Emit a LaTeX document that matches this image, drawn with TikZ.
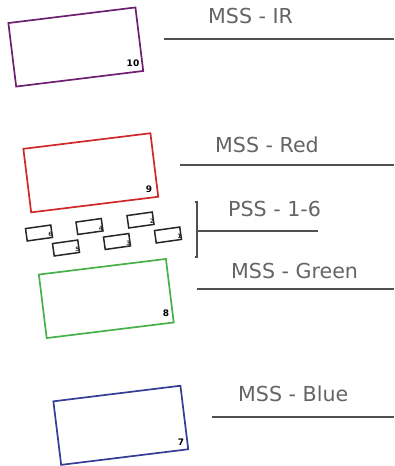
\documentclass[tikz,border=0pt]{standalone}
\usepackage{fontspec}
\setmainfont{DejaVu Sans}
\usetikzlibrary{calc}
\definecolor{irpurple}{HTML}{6E2070}
\definecolor{redband}{HTML}{D02828}
\definecolor{greenband}{HTML}{48B048}
\definecolor{blueband}{HTML}{343C96}
\definecolor{labelgray}{HTML}{646464}
\definecolor{rulegray}{HTML}{505050}
\tikzset{
  bandbox/.style={draw, line width=1.7pt, minimum width=128pt, minimum height=64pt,
    inner sep=0pt, rotate=7},
  pssbox/.style={draw=black!85, line width=1.5pt, minimum width=25.5pt, minimum height=12.5pt,
    inner sep=0pt, rotate=8},
  bandnum/.style={font=\fontsize{9}{9}\selectfont\bfseries, inner sep=0pt, text=black},
  pssnum/.style={font=\fontsize{6}{6}\selectfont\bfseries, inner sep=0pt, text=black!80},
  bandlabel/.style={font=\fontsize{20.6}{22}\selectfont, text=labelgray, inner sep=0pt,
    anchor=base west},
  bandrule/.style={draw=rulegray, line width=1.5pt}
}
\begin{document}
\begin{tikzpicture}[x=1pt, y=-1pt]
\useasboundingbox (0,0) rectangle (394,466);

% Multispectral scanner bands
\node[bandbox, draw=irpurple] (b10) at (75.8,47) {};
\node[bandbox, draw=redband] (b9) at (90.8,172.8) {};
\node[bandbox, draw=greenband] (b8) at (106.3,298.5) {};
\node[bandbox, draw=blueband] (b7) at (120.8,425.3) {};

\node[bandnum] (n10) at (133,63.5) {10};
\node[bandnum] (n9) at (149,189) {9};
\node[bandnum] (n8) at (166,313) {8};
\node[bandnum] (n7) at (181,442) {7};

% Panchromatic detectors 1-6
\node[pssbox] (s6) at (39,233) {};
\node[pssbox] (s5) at (66,248) {};
\node[pssbox] (s4) at (89.5,226.5) {};
\node[pssbox] (s3) at (117,241.5) {};
\node[pssbox] (s2) at (140.5,220) {};
\node[pssbox] (s1) at (168,235) {};
\foreach \i in {1,...,6}
  \node[pssnum] (p\i) at ($(s\i.south east)+(-3,-3.5)$) {\i};

% Labels and leader lines
\node[bandlabel] (lir) at (208,23) {MSS - IR};
\coordinate (rir0) at (164,39);  \coordinate (rir1) at (394,39);
\draw[bandrule] (rir0) -- (rir1);

\node[bandlabel] (lred) at (215,152) {MSS - Red};
\coordinate (rred0) at (180,165); \coordinate (rred1) at (394,165);
\draw[bandrule] (rred0) -- (rred1);

\node[bandlabel] (lpss) at (228,216) {PSS - 1-6};
\coordinate (brtop) at (197,202); \coordinate (brbot) at (197,257);
\coordinate (rpss0) at (197,231); \coordinate (rpss1) at (318,231);
\draw[bandrule, line width=1.3pt] ($(brtop)+(-2,0)$) -- (brtop) -- (brbot) -- ($(brbot)+(-2,0)$);
\draw[bandrule] (rpss0) -- (rpss1);

\node[bandlabel] (lgreen) at (231,278) {MSS - Green};
\coordinate (rgreen0) at (197,289); \coordinate (rgreen1) at (394,289);
\draw[bandrule] (rgreen0) -- (rgreen1);

\node[bandlabel] (lblue) at (238,401) {MSS - Blue};
\coordinate (rblue0) at (212,417); \coordinate (rblue1) at (394,417);
\draw[bandrule] (rblue0) -- (rblue1);
\end{tikzpicture}
\end{document}
